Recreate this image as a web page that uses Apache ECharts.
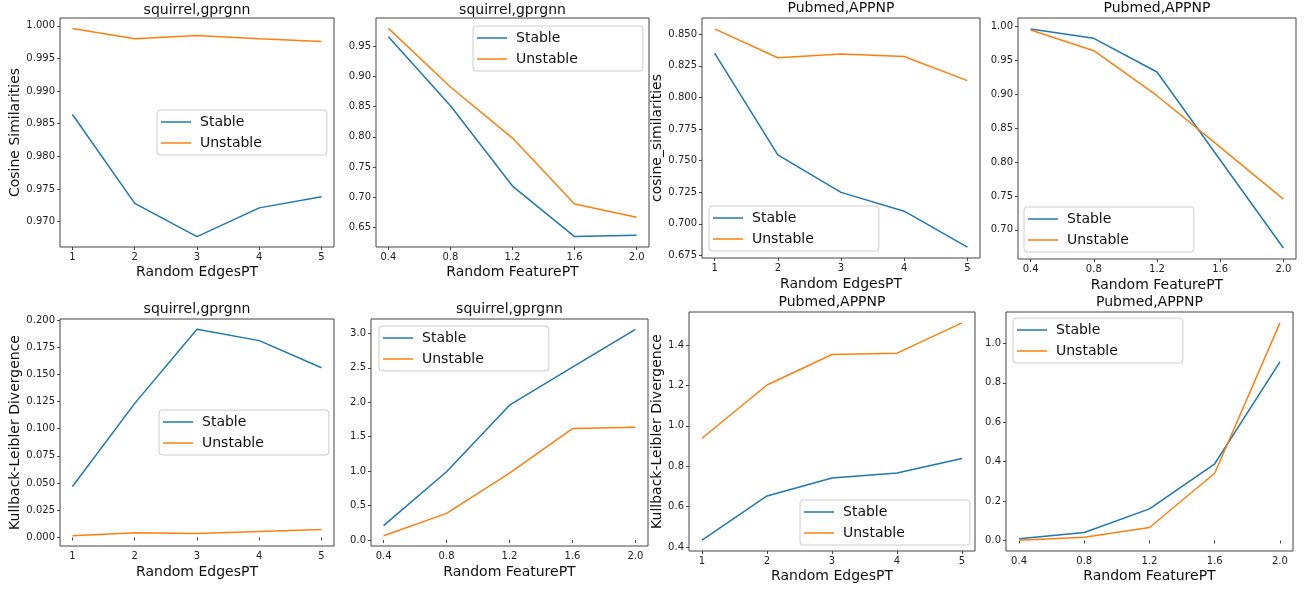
<!DOCTYPE html>
<html>
<head>
<meta charset="utf-8">
<script src="https://cdn.jsdelivr.net/npm/echarts@6/dist/echarts.min.js"></script>
<style>
html,body{margin:0;padding:0;background:#fff;}
#chart{width:1307px;height:590px;}
</style>
</head>
<body>
<div id="chart"></div>
<script>
// ---- data ----
const edgesX = [1, 2, 3, 4, 5];
const featureX = [0.4, 0.8, 1.2, 1.6, 2.0];

const p1Stable   = [0.9864, 0.9728, 0.9677, 0.9721, 0.9738];
const p1Unstable = [0.9996, 0.9980, 0.9985, 0.9980, 0.9976];
const p2Stable   = [0.9656, 0.8515, 0.7186, 0.6350, 0.6372];
const p2Unstable = [0.9794, 0.8825, 0.7980, 0.6890, 0.6670];
const p3Stable   = [0.8350, 0.7545, 0.7249, 0.7100, 0.6816];
const p3Unstable = [0.8542, 0.8314, 0.8343, 0.8324, 0.8133];
const p4Stable   = [0.9966, 0.9828, 0.9330, 0.8030, 0.6730];
const p4Unstable = [0.9951, 0.9645, 0.8980, 0.8220, 0.7453];
const p5Stable   = [0.0469, 0.1233, 0.1914, 0.1810, 0.1561];
const p5Unstable = [0.0016, 0.0043, 0.0037, 0.0055, 0.0074];
const p6Stable   = [0.207, 0.990, 1.957, 2.510, 3.058];
const p6Unstable = [0.062, 0.386, 0.971, 1.617, 1.638];
const p7Stable   = [0.4345, 0.653, 0.742, 0.767, 0.839];
const p7Unstable = [0.939, 1.2026, 1.3536, 1.360, 1.510];
const p8Stable   = [0.008, 0.040, 0.160, 0.389, 0.906];
const p8Unstable = [0.0015, 0.0167, 0.0657, 0.341, 1.104];

const edgeTicks = [1, 2, 3, 4, 5];
const featureTicks = [0.4, 0.8, 1.2, 1.6, 2.0];
const p1YTicks = [0.970, 0.975, 0.980, 0.985, 0.990, 0.995, 1.000];
const p2YTicks = [0.65, 0.70, 0.75, 0.80, 0.85, 0.90, 0.95];
const p3YTicks = [0.675, 0.700, 0.725, 0.750, 0.775, 0.800, 0.825, 0.850];
const p4YTicks = [0.70, 0.75, 0.80, 0.85, 0.90, 0.95, 1.00];
const p5YTicks = [0.000, 0.025, 0.050, 0.075, 0.100, 0.125, 0.150, 0.175, 0.200];
const p6YTicks = [0.0, 0.5, 1.0, 1.5, 2.0, 2.5, 3.0];
const p7YTicks = [0.4, 0.6, 0.8, 1.0, 1.2, 1.4];
const p8YTicks = [0.0, 0.2, 0.4, 0.6, 0.8, 1.0];

const titles = ['squirrel,gprgnn', 'squirrel,gprgnn', 'Pubmed,APPNP', 'Pubmed,APPNP',
                'squirrel,gprgnn', 'squirrel,gprgnn', 'Pubmed,APPNP', 'Pubmed,APPNP'];
const xNames = ['Random EdgesPT', 'Random FeaturePT', 'Random EdgesPT', 'Random FeaturePT',
                'Random EdgesPT', 'Random FeaturePT', 'Random EdgesPT', 'Random FeaturePT'];
const yNames = ['Cosine Similarities', '', 'cosine_similarities', '',
                'Kullback-Leibler Divergence', '', 'Kullback-Leibler Divergence', ''];
const seriesNames = ['Stable', 'Unstable'];

// ---- layout ----
const FONT = 'DejaVu Sans';
const panels = [
  {x: edgesX,   s: p1Stable, u: p1Unstable, xt: edgeTicks,    yt: p1YTicks, xd: 0, yd: 3,
   grid: [60, 18, 274, 229],  tTop: 3,   leg: [157, 110], yGap: 38, xGap: 18},
  {x: featureX, s: p2Stable, u: p2Unstable, xt: featureTicks, yt: p2YTicks, xd: 1, yd: 2,
   grid: [376, 18, 273, 229], tTop: 3,   leg: [473, 26],  yGap: 38, xGap: 18},
  {x: edgesX,   s: p3Stable, u: p3Unstable, xt: edgeTicks,    yt: p3YTicks, xd: 0, yd: 3,
   grid: [702, 18, 278, 240], tTop: 1,   leg: [709, 206], yGap: 37, xGap: 19},
  {x: featureX, s: p4Stable, u: p4Unstable, xt: featureTicks, yt: p4YTicks, xd: 1, yd: 2,
   grid: [1018, 18, 278, 241], tTop: 1,  leg: [1024, 207], yGap: 36, xGap: 19},
  {x: edgesX,   s: p5Stable, u: p5Unstable, xt: edgeTicks,    yt: p5YTicks, xd: 0, yd: 3,
   grid: [60, 319, 274, 227], tTop: 302, leg: [159, 410], yGap: 38, xGap: 19},
  {x: featureX, s: p6Stable, u: p6Unstable, xt: featureTicks, yt: p6YTicks, xd: 1, yd: 1,
   grid: [371, 319, 277, 227], tTop: 302, leg: [379, 326], yGap: 38, xGap: 19},
  {x: edgesX,   s: p7Stable, u: p7Unstable, xt: edgeTicks,    yt: p7YTicks, xd: 0, yd: 1,
   grid: [689, 312, 286, 239], tTop: 295, leg: [800, 500], yGap: 25, xGap: 18},
  {x: featureX, s: p8Stable, u: p8Unstable, xt: featureTicks, yt: p8YTicks, xd: 1, yd: 1,
   grid: [1006, 312, 287, 239], tTop: 295, leg: [1013, 318], yGap: 24, xGap: 18}
];

function padRange(arr) {
  const lo = Math.min.apply(null, arr), hi = Math.max.apply(null, arr);
  const m = (hi - lo) * 0.05;
  return [lo - m, hi + m];
}

const option = {
  animation: false,
  backgroundColor: '#fff',
  textStyle: {fontFamily: FONT},
  title: [], grid: [], xAxis: [], yAxis: [], series: [], legend: []
};

const BLUE = '#1f77b4', ORANGE = '#ff7f0e', AX = '#444';
const LINE_ICON = 'path://M0,0M0,14M0,6.25L30,6.25L30,7.75L0,7.75Z';

panels.forEach((p, i) => {
  const [gl, gt, gw, gh] = p.grid;
  option.grid.push({left: gl, top: gt, width: gw, height: gh, show: true,
    borderColor: AX, borderWidth: 1, backgroundColor: 'transparent', containLabel: false});
  option.title.push({text: titles[i], left: gl + gw / 2, top: p.tTop, textAlign: 'center', padding: 0,
    textStyle: {fontFamily: FONT, fontSize: 14, fontWeight: 'normal', color: '#111'}});
  const xr = padRange(p.x);
  const yr = padRange(p.s.concat(p.u));
  option.xAxis.push({
    type: 'value', gridIndex: i, min: xr[0], max: xr[1],
    name: xNames[i], nameLocation: 'middle', nameGap: p.xGap,
    nameTextStyle: {fontFamily: FONT, fontSize: 14, color: '#111', verticalAlign: 'top'},
    splitLine: {show: false}, axisLine: {show: false},
    axisTick: {show: true, length: 3, customValues: p.xt, lineStyle: {color: AX}},
    axisLabel: {show: true, customValues: p.xt, margin: 5, fontFamily: FONT, fontSize: 10, color: '#222',
      formatter: (v) => Number(v).toFixed(p.xd)}
  });
  option.yAxis.push({
    type: 'value', gridIndex: i, min: yr[0], max: yr[1],
    name: yNames[i], nameLocation: 'middle', nameGap: p.yGap, nameRotate: 90,
    nameTextStyle: {fontFamily: FONT, fontSize: 14, color: '#111'},
    splitLine: {show: false}, axisLine: {show: false},
    axisTick: {show: true, length: 3, customValues: p.yt, lineStyle: {color: AX}},
    axisLabel: {show: true, customValues: p.yt, margin: 5, fontFamily: FONT, fontSize: 10, color: '#222',
      formatter: (v) => Number(v).toFixed(p.yd)}
  });
  [[p.s, BLUE, seriesNames[0]], [p.u, ORANGE, seriesNames[1]]].forEach(([vals, col, nm]) => {
    option.series.push({
      type: 'line', name: nm, xAxisIndex: i, yAxisIndex: i,
      data: p.x.map((xv, k) => [xv, vals[k]]),
      symbol: 'none', showSymbol: false, silent: true,
      lineStyle: {color: col, width: 1.5}, itemStyle: {color: col}
    });
  });
  option.legend.push({
    data: seriesNames.map(n => ({name: n, icon: LINE_ICON})),
    left: p.leg[0], top: p.leg[1], orient: 'vertical',
    itemWidth: 30, itemHeight: 14, itemGap: 7, selectedMode: false,
    padding: [5, 65, 5, 4], borderColor: '#ccc', borderWidth: 1, borderRadius: 3,
    backgroundColor: 'rgba(255,255,255,0.8)',
    itemStyle: {borderWidth: 0},
    textStyle: {fontFamily: FONT, fontSize: 14, color: '#111', padding: [0, 0, 0, 4]}
  });
});

const chart = echarts.init(document.getElementById('chart'), null, {renderer: 'canvas'});
chart.setOption(option);
</script>
</body>
</html>
